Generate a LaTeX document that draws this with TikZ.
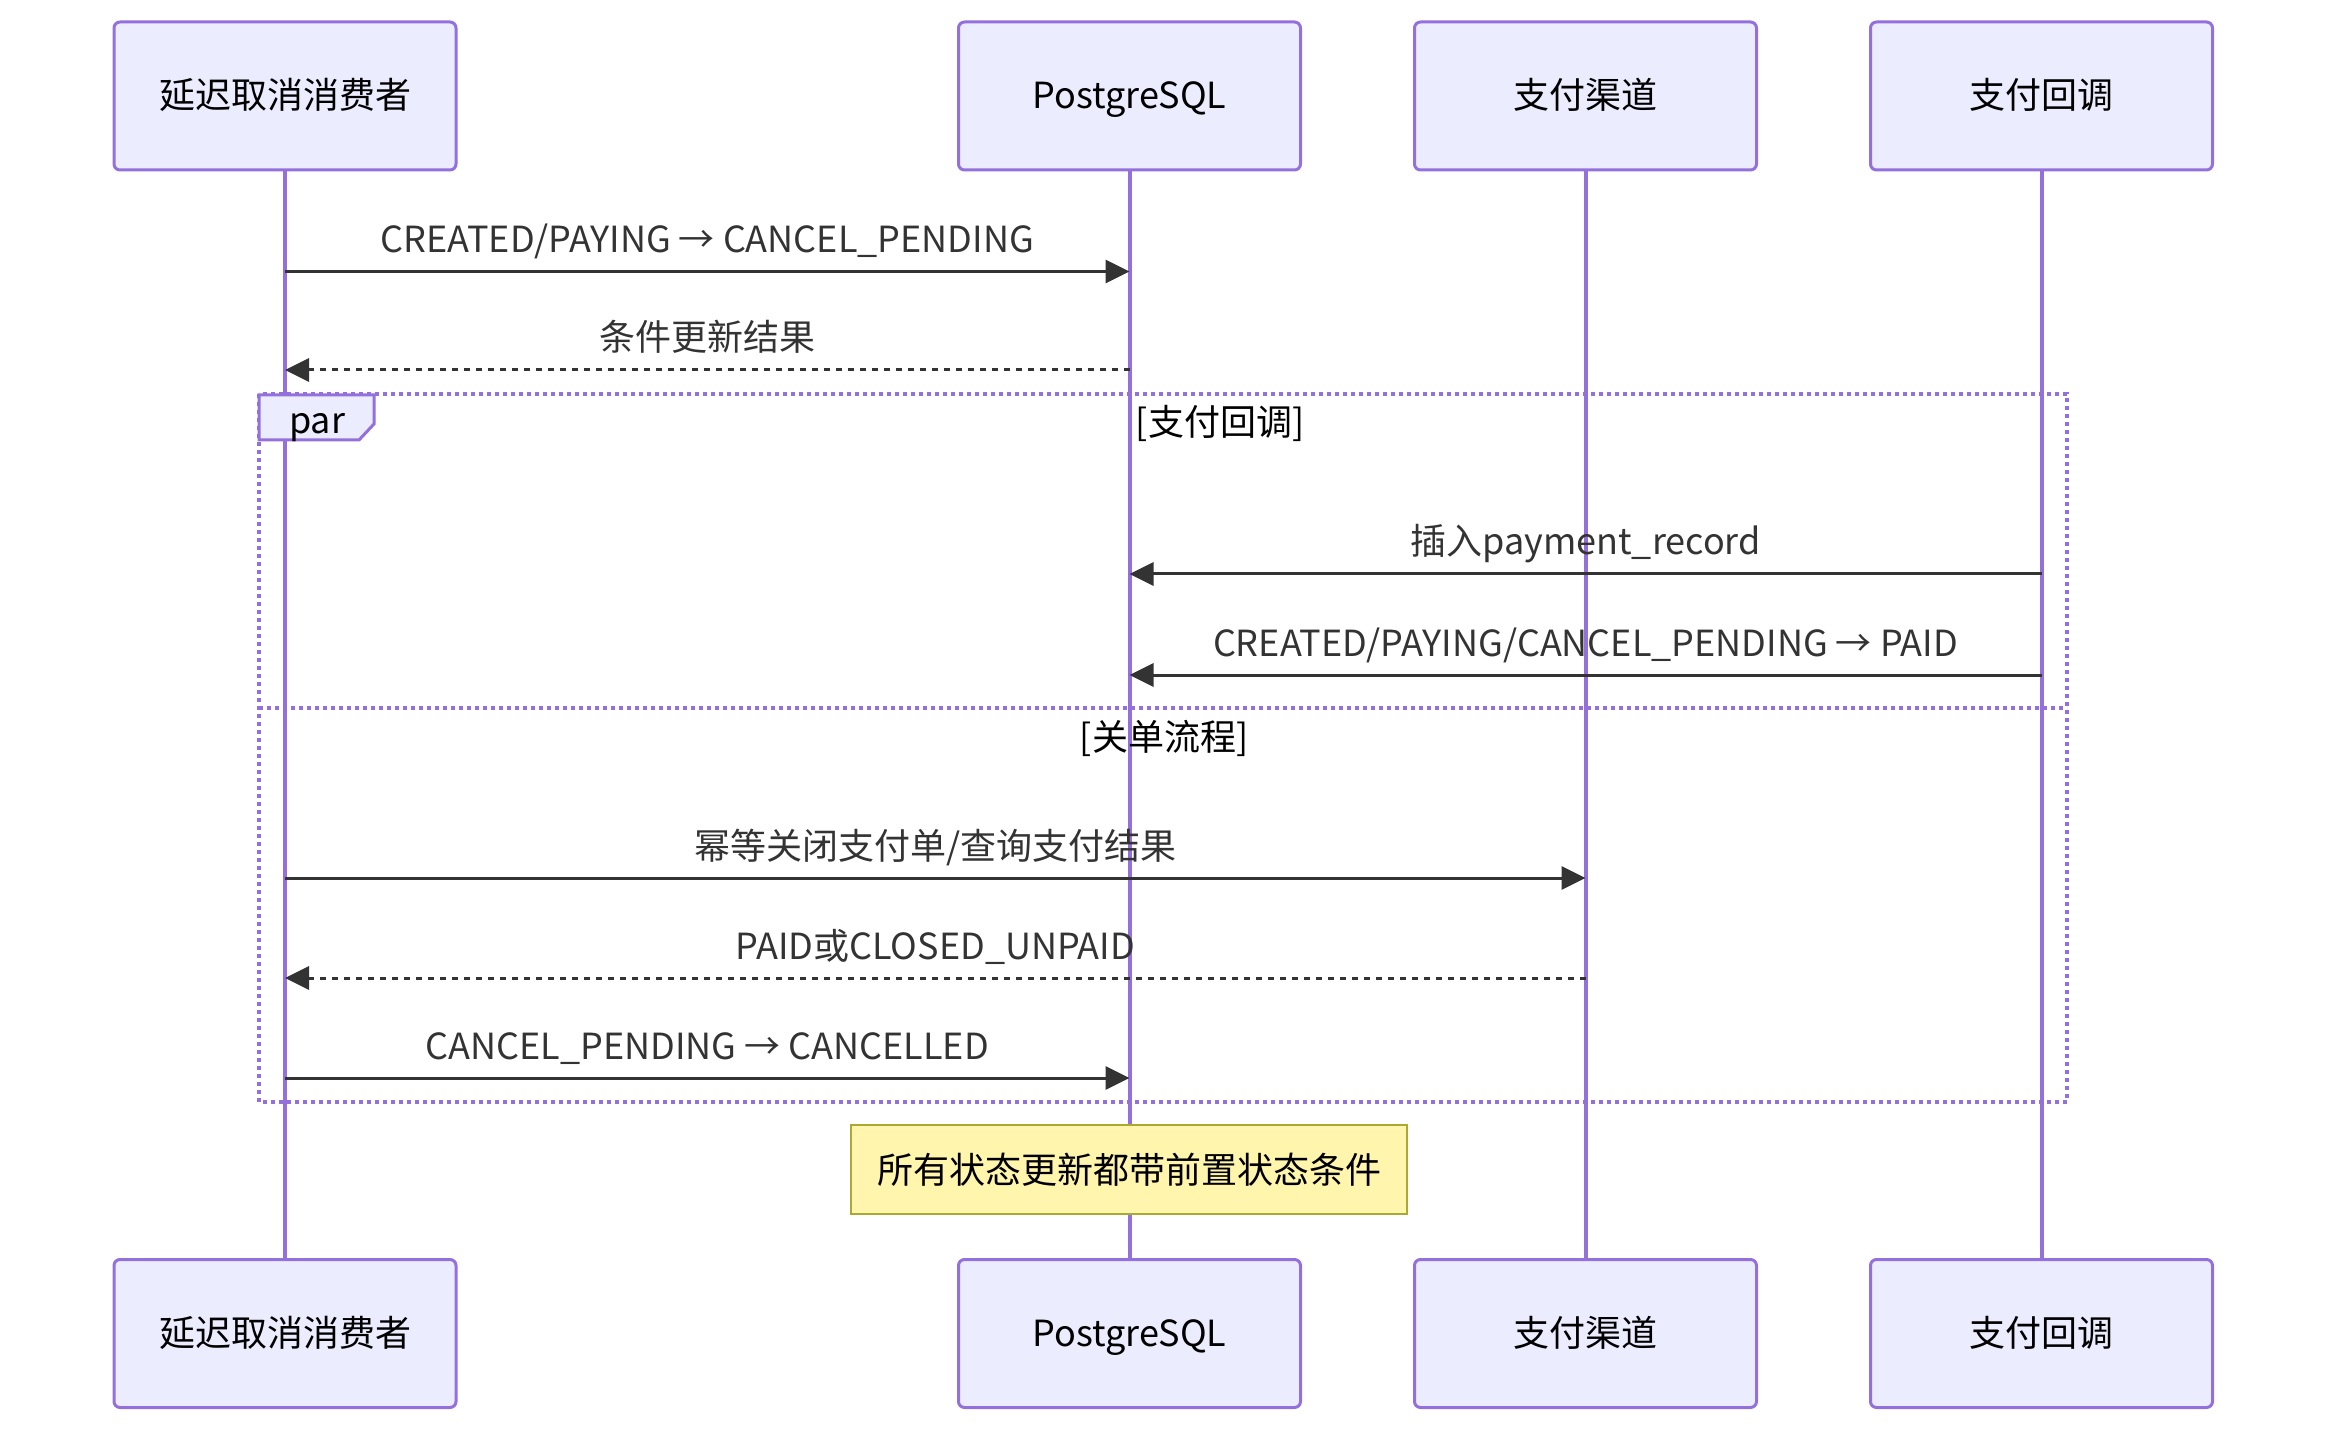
\documentclass[tikz,border=0pt]{standalone}
\usepackage{fontspec}
\setmainfont{Noto Sans CJK SC}
\usetikzlibrary{arrows.meta}
\definecolor{lifepurple}{HTML}{9370DB}
\definecolor{actorfill}{HTML}{ECECFF}
\definecolor{msggray}{HTML}{333333}
\definecolor{notefill}{HTML}{FFF5AD}
\definecolor{noteline}{HTML}{AAAA33}
\newcommand{\actw}{171pt}
\newcommand{\acth}{74pt}
\newcommand{\ytop}{96}
\newcommand{\ybot}{1333.5}
\newcommand{\txt}{\fontsize{18pt}{22pt}\selectfont}

\begin{document}
\begin{tikzpicture}[x=0.5pt,y=-0.5pt,
    actor/.style={draw=lifepurple, fill=actorfill, line width=1.5pt, rounded corners=3pt, minimum width=\actw, minimum height=\acth, inner sep=0pt, text height=1.27em, text depth=0em, font=\txt},
    life/.style={draw=lifepurple, line width=2pt},
    msg/.style={draw=msggray, line width=1.5pt, -{Triangle[length=12pt,width=11.5pt]}},
    reply/.style={msg, dash pattern=on 3pt off 3pt},
    msglabel/.style={text=msggray, font=\txt, midway, anchor=base, yshift=9.5pt, inner sep=0pt},
    frameline/.style={draw=lifepurple, line width=2pt, dash pattern=on 2pt off 2pt},
    section/.style={font=\txt, inner sep=0pt},
    note/.style={draw=noteline, fill=notefill, line width=1pt, minimum width=278pt, minimum height=44.5pt, inner sep=0pt, font=\txt}]
    \useasboundingbox (0,0) rectangle (2352,1449);

    % Top row
    \node[actor] (consumer-top) at (285,\ytop) {延迟取消消费者};
    \node[actor] (pg-top) at (1129.5,\ytop) {PostgreSQL};
    \node[actor] (channel-top) at (1585.5,\ytop) {支付渠道};
    \node[actor] (callback-top) at (2041.5,\ytop) {支付回调};

    % Bottom row
    \node[actor] (consumer-bot) at (285,\ybot) {延迟取消消费者};
    \node[actor] (pg-bot) at (1129.5,\ybot) {PostgreSQL};
    \node[actor] (channel-bot) at (1585.5,\ybot) {支付渠道};
    \node[actor] (callback-bot) at (2041.5,\ybot) {支付回调};

    % Lifelines
    \draw[life] (consumer-top) -- (consumer-bot);
    \draw[life] (pg-top) -- (pg-bot);
    \draw[life] (channel-top) -- (channel-bot);
    \draw[life] (callback-top) -- (callback-bot);

    % par frame
    \draw[frameline] (259,394) rectangle (2067,1102);
    \draw[frameline] (259,708) -- (2067,708);
    \draw[draw=lifepurple, fill=actorfill, line width=1.5pt] (259,395) -- (374,395) -- (374,424) -- (359,440) -- (259,440) -- cycle;
    \node[section] (par) at (317,428) {par};
    \node[section] (sec-callback) at (1220,423) {[支付回调]};
    \node[section] (sec-close) at (1164,738) {[关单流程]};

    % Message ends
    \coordinate (m1-from) at (285,271.5);   \coordinate (m1-to) at (1129.5,271.5);
    \coordinate (m2-from) at (1129.5,370);  \coordinate (m2-to) at (285,370);
    \coordinate (m3-from) at (2041.5,574);  \coordinate (m3-to) at (1129.5,574);
    \coordinate (m4-from) at (2041.5,675);  \coordinate (m4-to) at (1129.5,675);
    \coordinate (m5-from) at (285,878);     \coordinate (m5-to) at (1585.5,878);
    \coordinate (m6-from) at (1585.5,978);  \coordinate (m6-to) at (285,978);
    \coordinate (m7-from) at (285,1078);    \coordinate (m7-to) at (1129.5,1078);

    % Messages
    \draw[msg] (m1-from) -- (m1-to) node[msglabel] {CREATED/PAYING → CANCEL\_PENDING};
    \draw[reply] (m2-from) -- (m2-to) node[msglabel] {条件更新结果};
    \draw[msg] (m3-from) -- (m3-to) node[msglabel] {插入payment\_record};
    \draw[msg] (m4-from) -- (m4-to) node[msglabel] {CREATED/PAYING/CANCEL\_PENDING → PAID};
    \draw[msg] (m5-from) -- (m5-to) node[msglabel] {幂等关闭支付单/查询支付结果};
    \draw[reply] (m6-from) -- (m6-to) node[msglabel] {PAID或CLOSED\_UNPAID};
    \draw[msg] (m7-from) -- (m7-to) node[msglabel] {CANCEL\_PENDING → CANCELLED};

    % Note
    \node[note] (state-note) at (1129,1169.5) {所有状态更新都带前置状态条件};

\end{tikzpicture}
\end{document}
